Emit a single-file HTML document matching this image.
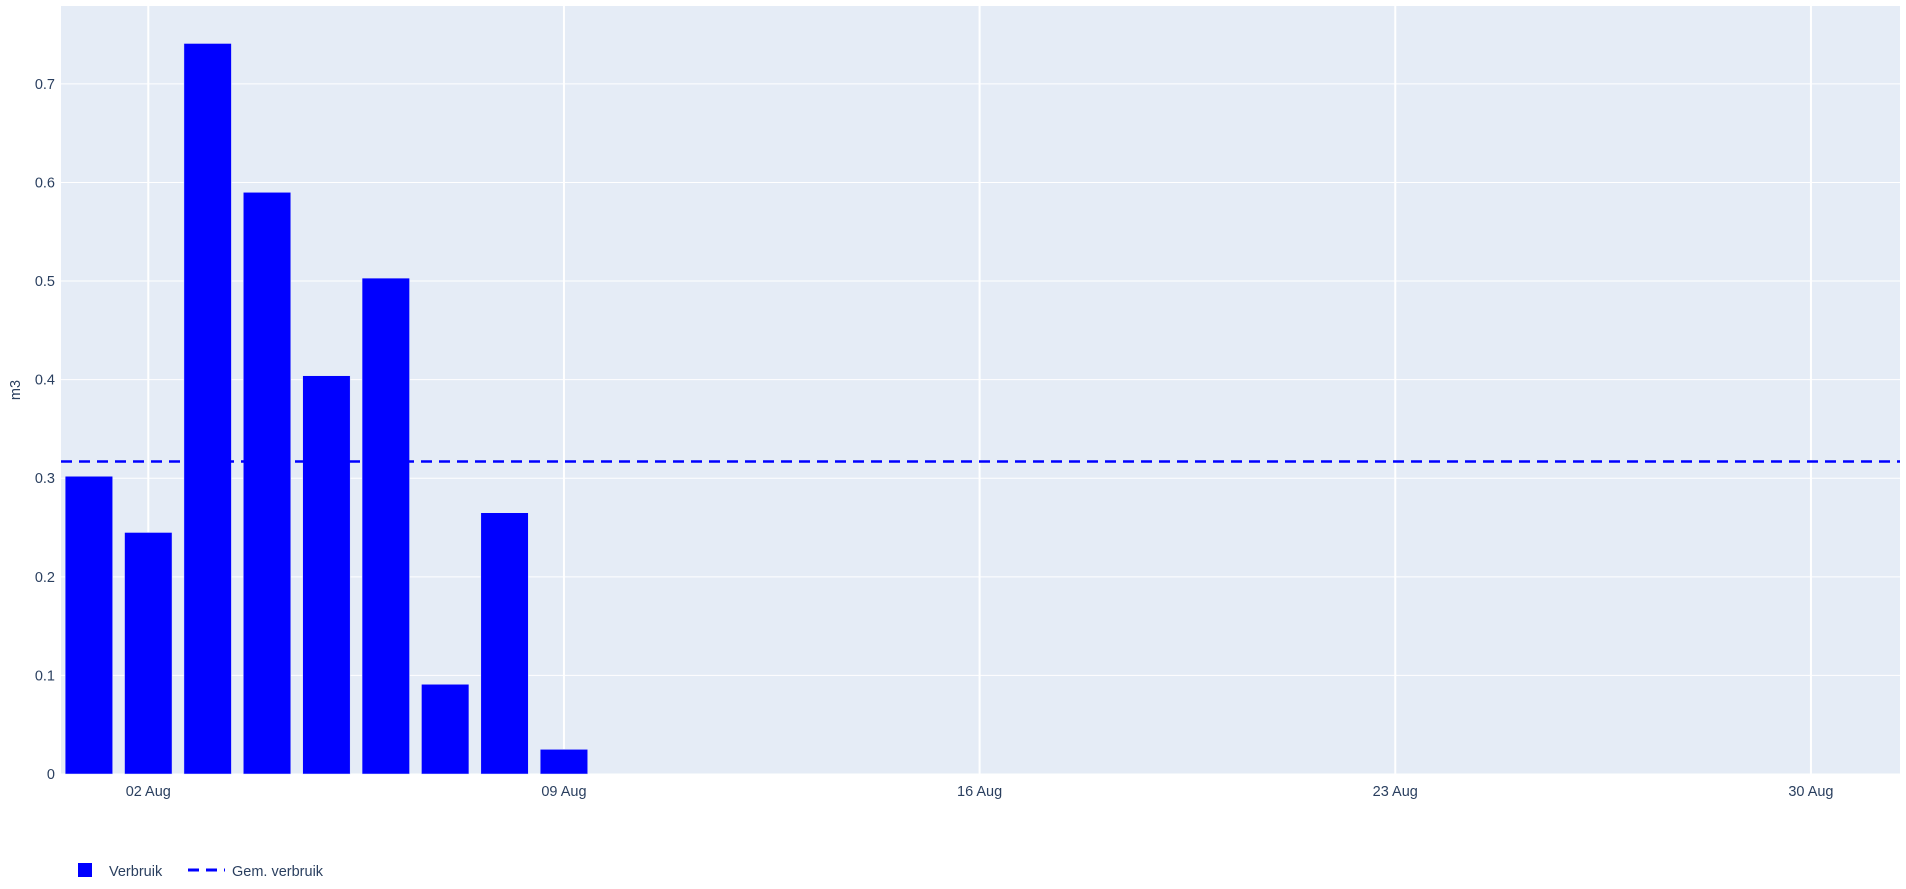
<!DOCTYPE html>
<html><head><meta charset="utf-8"><style>
body{margin:0;background:#fff;font-family:"Liberation Sans",sans-serif}
svg text{font-family:"Liberation Sans",sans-serif;fill:#2a3f5f;font-size:14.5px}
</style></head><body>
<svg width="1906" height="884" xmlns="http://www.w3.org/2000/svg">
<g id="g"></g>
</svg>
<script>
const days=[1,2,3,4,5,6,7,8,9];
const values=[0.302,0.245,0.741,0.590,0.404,0.503,0.091,0.265,0.025];
const meanValue=0.317;
const yTicks=[0,0.1,0.2,0.3,0.4,0.5,0.6,0.7];
const xTickDays=[2,9,16,23,30];
const xTickLabels=["02 Aug","09 Aug","16 Aug","23 Aug","30 Aug"];
const L=61,R=1900,T=6,B=774,x0=0.53,x1=31.5,y0=0,y1=0.779;
const X=d=>L+(d-x0)/(x1-x0)*(R-L);
const Y=v=>B-(v-y0)/(y1-y0)*(B-T);
const NS="http://www.w3.org/2000/svg",g=document.getElementById('g');
function mk(t,a,txt){const e=document.createElementNS(NS,t);for(const k in a)e.setAttribute(k,a[k]);if(txt!==undefined)e.textContent=txt;g.appendChild(e);return e;}
let e=mk('rect',{x:L,y:T,width:R-L,height:B-T,fill:'#e5ecf6'});


yTicks.forEach(v=>{
 e=mk('line',{x1:L,x2:R,y1:Y(v),y2:Y(v),stroke:'#fff','stroke-width':1});
 
 
 e=mk('text',{x:L-6,y:Y(v)+5,'text-anchor':'end'},String(v));
 
 
});
xTickDays.forEach((d,i)=>{
 e=mk('line',{x1:X(d),x2:X(d),y1:T,y2:B,stroke:'#fff','stroke-width':2});
 
 
 e=mk('text',{x:X(d),y:B+22,'text-anchor':'middle'},xTickLabels[i]);
 
 
});
days.forEach((d,i)=>{
 const w=(X(1.4)-X(1));
 e=mk('rect',{x:X(d-0.4),y:Y(values[i]),width:2*w,height:Y(0)-Y(values[i]),fill:'#0000ff',stroke:'#e5ecf6','stroke-width':0.5});
 
 
});
e=mk('line',{x1:L,x2:R,y1:Y(meanValue),y2:Y(meanValue),stroke:'#0000ff','stroke-width':2.5,'stroke-dasharray':'11,7'});


e=mk('text',{x:0,y:0,transform:'translate(20,'+((T+B)/2)+') rotate(-90)','text-anchor':'middle','font-size':'18'},'m3');


e=mk('rect',{x:78,y:863,width:14,height:14,fill:'#0000ff'});


e=mk('text',{x:109,y:876,'font-size':'15.5'},'Verbruik');


e=mk('line',{x1:188,x2:225,y1:870,y2:870,stroke:'#0000ff','stroke-width':3,'stroke-dasharray':'11,7'});


e=mk('text',{x:232,y:876,'font-size':'15.5'},'Gem. verbruik');


</script>
</body></html>
